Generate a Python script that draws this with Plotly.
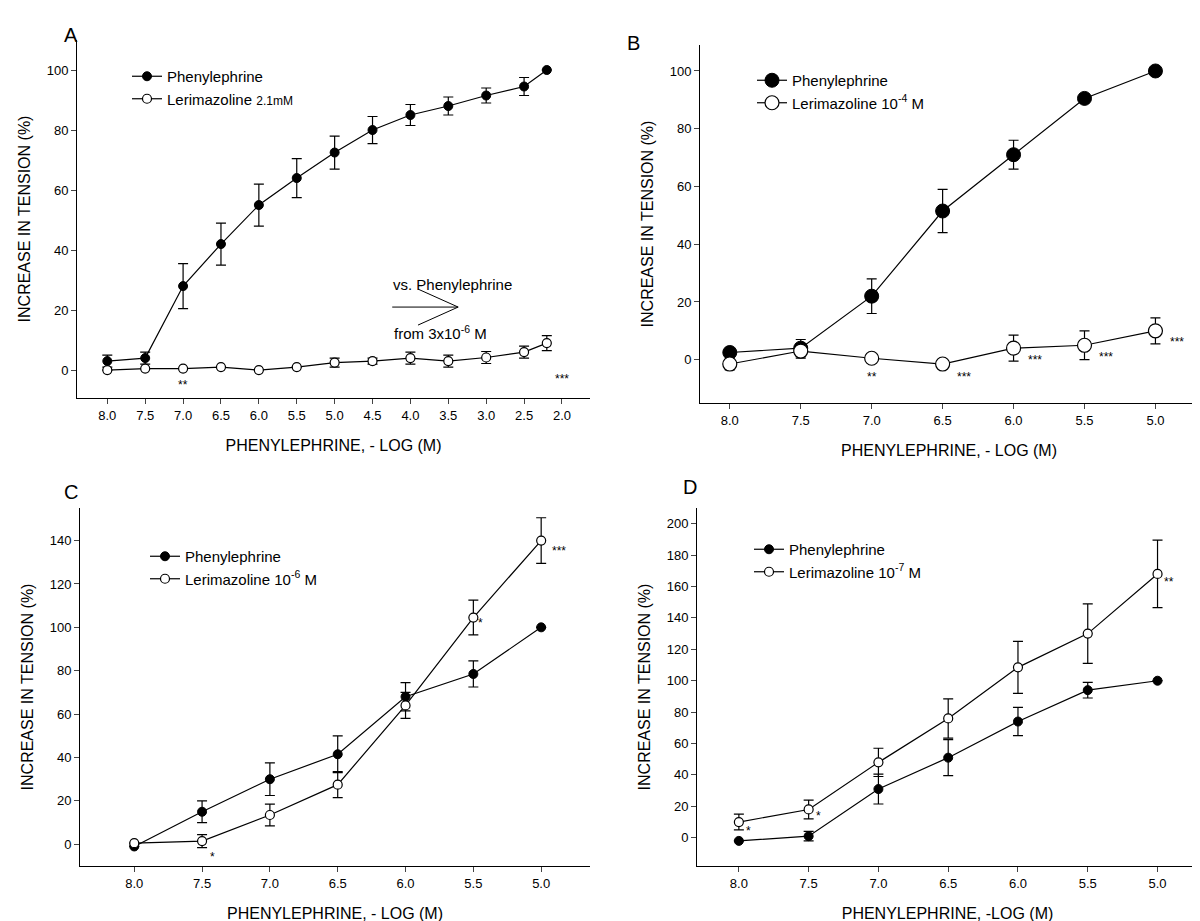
import plotly.graph_objects as go

W, H = 1200, 921
OFF = 8  # page body margin

# panel A
a_x = [8.0, 7.5, 7.0, 6.5, 6.0, 5.5, 5.0, 4.5, 4.0, 3.5, 3.0, 2.5, 2.2]
a_phe = [3, 4, 28, 42, 55, 64, 72.5, 80, 85, 88, 91.5, 94.5, 100]
a_phe_err = [2, 2, 7.5, 7, 7, 6.5, 5.5, 4.5, 3.5, 3, 2.5, 3, 0]
a_ler = [0, 0.5, 0.5, 1, 0, 1, 2.5, 3, 4, 3, 4.2, 6, 9]
a_ler_err = [0, 0, 0, 0, 0, 0, 1.5, 1, 2, 2, 2, 2, 2.5]

# panel B
b_x = [8.0, 7.5, 7.0, 6.5, 6.0, 5.5, 5.0]
b_phe = [2.5, 4, 22, 51.5, 71, 90.5, 100]
b_phe_err = [1, 3, 6, 7.5, 5, 1.5, 0]
b_ler = [-1.5, 3, 0.5, -1.5, 4, 5, 10]
b_ler_err = [2, 2.5, 0, 0, 4.5, 5, 4.5]

# panel C
c_x = [8.0, 7.5, 7.0, 6.5, 6.0, 5.5, 5.0]
c_phe = [-1, 15, 30, 41.5, 68, 78.5, 100]
c_phe_err = [0, 5, 7.5, 8.5, 6.5, 6, 0]
c_ler = [0.5, 1.5, 13.5, 27.5, 64, 104.5, 140]
c_ler_err = [0, 3, 5, 6, 6, 8, 10.5]

# panel D
d_x = [8.0, 7.5, 7.0, 6.5, 6.0, 5.5, 5.0]
d_phe = [-2, 1, 31, 51, 74, 94, 100]
d_phe_err = [0, 3, 9.5, 11.5, 9, 5, 0]
d_ler = [10, 18, 48, 76, 108.5, 130, 168]
d_ler_err = [5, 6, 9, 12.5, 16.5, 19, 21.5]

FONT = "Liberation Sans, Arial, sans-serif"


def px_x(v):
    return (v - OFF) / W


def px_y(v):
    return 1 - (v - OFF) / H


panels = [
    ("A", a_x, a_phe, a_phe_err, a_ler, a_ler_err,
     "Lerimazoline <span style='font-size:12px'>2.1mM</span>",
     (77, 590), (398, 40), [8.4, 1.63], [-9.3, 110],
     [8.0, 7.5, 7.0, 6.5, 6.0, 5.5, 5.0, 4.5, 4.0, 3.5, 3.0, 2.5, 2.0],
     "PHENYLEPHRINE, - LOG (M)", 9, (127, 60)),
    ("B", b_x, b_phe, b_phe_err, b_ler, b_ler_err,
     "Lerimazoline 10<sup>-4</sup> M",
     (700, 1198), (403, 45), [8.21, 4.70], [-15, 109],
     [8.0, 7.5, 7.0, 6.5, 6.0, 5.5, 5.0],
     "PHENYLEPHRINE, - LOG (M)", 14, (752, 64)),
    ("C", c_x, c_phe, c_phe_err, c_ler, c_ler_err,
     "Lerimazoline 10<sup>-6</sup> M",
     (80, 590), (866, 508), [8.40, 4.64], [-10, 155],
     [8.0, 7.5, 7.0, 6.5, 6.0, 5.5, 5.0],
     "PHENYLEPHRINE, - LOG (M)", 9, (145, 540)),
    ("D", d_x, d_phe, d_phe_err, d_ler, d_ler_err,
     "Lerimazoline 10<sup>-7</sup> M",
     (697, 1198), (866, 508), [8.30, 4.71], [-18, 210],
     [8.0, 7.5, 7.0, 6.5, 6.0, 5.5, 5.0],
     "PHENYLEPHRINE, -LOG (M)", 9, (749, 533)),
]

stars = {
    "A": [(7.0, -5, "**"), (2.0, -3, "***")],
    "B": [(7.0, -6, "**"), (6.35, -6, "***"), (5.85, 0, "***"), (5.35, 1, "***"), (4.85, 6, "***")],
    "C": [(7.42, -6, "*"), (5.45, 102, "*"), (4.87, 135, "***")],
    "D": [(7.93, 4, "*"), (7.43, 14, "*"), (4.92, 163, "**")],
}

letters = {"A": (62, 22), "B": (634, 30), "C": (62, 492), "D": (690, 487)}

fig = go.Figure()
layout = {}
for i, (name, x, phe, phe_err, ler, ler_err, ler_label, xd, yd, xr, yr,
        ticks, xtitle, ms, leg) in enumerate(panels):
    n = "" if i == 0 else str(i + 1)
    lg = "legend" if i == 0 else "legend" + str(i + 1)
    err = dict(type="data", thickness=1.2, width=5, color="black")
    fig.add_trace(go.Scatter(
        x=x, y=phe, error_y=dict(array=phe_err, **err), mode="lines+markers",
        name="Phenylephrine", xaxis="x" + n, yaxis="y" + n, legend=lg,
        line=dict(color="black", width=1.2),
        marker=dict(color="black", size=ms, line=dict(color="black", width=1))))
    fig.add_trace(go.Scatter(
        x=x, y=ler, error_y=dict(array=ler_err, **err), mode="lines+markers",
        name=ler_label, xaxis="x" + n, yaxis="y" + n, legend=lg,
        line=dict(color="black", width=1.2),
        marker=dict(color="white", size=ms, line=dict(color="black", width=1.2))))
    layout["xaxis" + n] = dict(
        domain=[px_x(xd[0]), min(1, px_x(xd[1]))], range=xr, anchor="y" + n, automargin=False,
        tickvals=ticks, ticktext=["%.1f" % t for t in ticks],
        showgrid=False, zeroline=False, showline=True, linecolor="black",
        ticks="outside", ticklen=5, tickfont=dict(size=13),
        title=dict(text=xtitle, font=dict(size=16), standoff=18))
    layout["yaxis" + n] = dict(
        domain=[px_y(yd[0]), px_y(yd[1])], range=yr, anchor="x" + n, automargin=False,
        dtick=20, tick0=0, showgrid=False, zeroline=False, showline=True,
        linecolor="black", ticks="outside", ticklen=5, tickfont=dict(size=13),
        title=dict(text="INCREASE IN TENSION (%)", font=dict(size=16), standoff=12))
    layout[lg] = dict(x=px_x(leg[0]), y=px_y(leg[1]), xanchor="left", yanchor="top",
                      bgcolor="rgba(0,0,0,0)", font=dict(size=15), tracegroupgap=0)
    for sx, sy, s in stars[name]:
        fig.add_annotation(x=sx, y=sy, text=s, xref="x" + n, yref="y" + n,
                           showarrow=False, font=dict(size=12, color="black"))
    fig.add_annotation(x=px_x(letters[name][0]), y=px_y(letters[name][1]),
                       xref="paper", yref="paper", text=name, showarrow=False,
                       font=dict(size=20, color="black"))

# arrow in panel A: shaft and open chevron
arrow_lines = [(4.24, 21, 3.37, 21), (3.37, 21, 3.9, 27), (3.37, 21, 3.9, 15)]
for x0, y0, x1, y1 in arrow_lines:
    fig.add_shape(type="line", x0=x0, y0=y0, x1=x1, y1=y1, xref="x", yref="y",
                  line=dict(color="black", width=1))
fig.add_annotation(x=3.45, y=28.5, xref="x", yref="y", text="vs. Phenylephrine",
                   showarrow=False, font=dict(size=15, color="black"))
fig.add_annotation(x=3.6, y=12.5, xref="x", yref="y", text="from 3x10<sup>-6</sup> M",
                   showarrow=False, font=dict(size=15, color="black"))

fig.update_layout(width=W, height=H, margin=dict(l=0, r=0, t=0, b=0),
                  plot_bgcolor="white", paper_bgcolor="white",
                  font=dict(family=FONT, color="black"), **layout)
fig.write_html("out.html")
